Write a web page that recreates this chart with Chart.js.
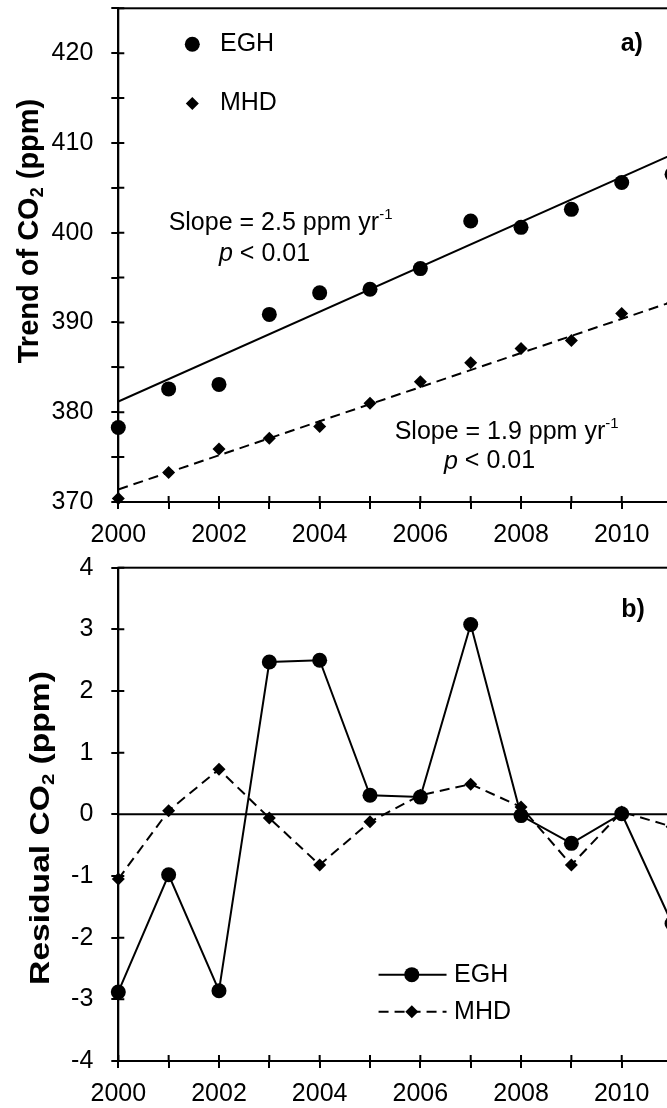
<!DOCTYPE html>
<html>
<head>
<meta charset="utf-8">
<script src="https://cdn.jsdelivr.net/npm/chart.js@4.4.1/dist/chart.umd.min.js"></script>
<style>
  html, body { margin: 0; padding: 0; background: #fff; overflow: hidden; }
  body { width: 667px; height: 1108px; position: relative; }
  .panel { position: absolute; left: 0; width: 760px; }
  #panelA { top: 0; height: 556px; }
  #panelB { top: 540px; height: 568px; }
</style>
</head>
<body>
<div class="panel" id="panelA"><canvas id="trend-chart"></canvas></div>
<div class="panel" id="panelB"><canvas id="resid-chart"></canvas></div>
<script>
// data
const years = [2000, 2001, 2002, 2003, 2004, 2005, 2006, 2007, 2008, 2009, 2010, 2011];
const eghTrend = [378.3, 382.6, 383.1, 390.9, 393.3, 393.7, 396.0, 401.3, 400.6, 402.6, 405.6, 406.5];
const mhdTrend = [370.4, 373.3, 375.9, 377.1, 378.4, 381.0, 383.4, 385.5, 387.1, 388.0, 391.0, 392.1];
const fitYears = [2000, 2011];
const eghFit = [381.2, 408.7];
const mhdFit = [371.4, 392.3];
const eghResid = [-2.88, -0.98, -2.86, 2.47, 2.50, 0.31, 0.28, 3.08, -0.02, -0.47, 0.01, -1.77];
const mhdResid = [-1.05, 0.06, 0.73, -0.06, -0.82, -0.12, 0.31, 0.49, 0.12, -0.82, 0.04, -0.20];
const yearLabels = [2000, 2002, 2004, 2006, 2008, 2010];
const trendLabels = [370, 380, 390, 400, 410, 420];
const residLabels = [-4, -3, -2, -1, 0, 1, 2, 3, 4];

const FONT = "'Liberation Sans', Arial, sans-serif";

function pts(xs, ys) {
  return xs.map((x, i) => ({ x: x, y: ys[i] }));
}

function drawParts(ctx, parts, x, y) {
  let cx = x;
  parts.forEach(p => {
    ctx.font = p.font;
    ctx.fillText(p.text, cx, y + (p.dy || 0));
    cx += ctx.measureText(p.text).width;
  });
}

const slopeText = (v) => [
  { text: 'Slope = ' + v + ' ppm yr', font: '25px ' + FONT },
  { text: '-1', font: '15px ' + FONT, dy: -8 }
];
const pText = [
  { text: 'p', font: 'italic 25px ' + FONT },
  { text: ' < 0.01', font: '25px ' + FONT }
];

// frame, crossing tick marks, zero line, legends, labels and axis title
const panelDecor = {
  id: 'panelDecor',
  afterDraw(chart, args, opts) {
    const { ctx, chartArea: a } = chart;
    const x = chart.scales.x, y = chart.scales.y;
    ctx.save();
    ctx.strokeStyle = '#000';
    ctx.fillStyle = '#000';
    ctx.lineWidth = 2;
    ctx.strokeRect(a.left, a.top, a.right - a.left, a.bottom - a.top);
    ctx.beginPath();
    y.ticks.forEach(t => {
      const py = y.getPixelForValue(t.value);
      ctx.moveTo(a.left, py); ctx.lineTo(a.left + 6, py);
    });
    x.ticks.forEach(t => {
      const px = x.getPixelForValue(t.value);
      ctx.moveTo(px, a.bottom); ctx.lineTo(px, a.bottom - 6);
    });
    if (opts.zeroLine) {
      const py = y.getPixelForValue(0);
      ctx.moveTo(a.left, py); ctx.lineTo(a.right, py);
    }
    ctx.stroke();

    ctx.textBaseline = 'middle';
    ctx.textAlign = 'left';
    (opts.legend || []).forEach(item => {
      const py = y.getPixelForValue(item.y);
      if (item.line) {
        ctx.beginPath();
        ctx.setLineDash(item.dash || []);
        ctx.moveTo(x.getPixelForValue(item.line[0]), py);
        ctx.lineTo(x.getPixelForValue(item.line[1]), py);
        ctx.stroke();
        ctx.setLineDash([]);
      }
      Chart.helpers.drawPoint(ctx, { pointStyle: item.style, radius: item.radius, borderWidth: 0, rotation: 0 },
        x.getPixelForValue(item.mx), py);
      ctx.font = '25px ' + FONT;
      ctx.fillText(item.label, x.getPixelForValue(item.tx), py);
    });
    (opts.notes || []).forEach(n => {
      drawParts(ctx, n.parts, x.getPixelForValue(n.x), y.getPixelForValue(n.y));
    });

    if (opts.title) {
      const t = opts.title;
      const big = 'bold ' + t.size + 'px ' + FONT;
      const small = 'bold ' + Math.round(t.size * 0.62) + 'px ' + FONT;
      ctx.translate(t.x, t.y);
      ctx.rotate(-Math.PI / 2);
      ctx.scale(t.stretch || 1, 1);
      ctx.font = big;
      const w1 = ctx.measureText(t.pre).width;
      const w3 = ctx.measureText(t.post).width;
      ctx.font = small;
      const w2 = ctx.measureText('2').width;
      ctx.textBaseline = 'alphabetic';
      let cx = -(w1 + w2 + w3) / 2;
      ctx.font = big;
      ctx.fillText(t.pre, cx, 0); cx += w1;
      ctx.font = small;
      ctx.fillText('2', cx, 5); cx += w2;
      ctx.font = big;
      ctx.fillText(t.post, cx, 0);
    }
    ctx.restore();
  }
};

function noPad(s) {
  s.paddingTop = 0; s.paddingBottom = 0; s.paddingLeft = 0; s.paddingRight = 0;
}

function xAxis(height) {
  return {
    type: 'linear', min: 2000, max: 2012,
    afterFit: (s) => { s.height = height; noPad(s); },
    border: { display: true, color: '#000', width: 2 },
    grid: { display: true, drawOnChartArea: false, drawTicks: true, tickLength: 7, color: '#000', lineWidth: 2 },
    ticks: {
      stepSize: 1, autoSkip: false, maxRotation: 0, padding: 11, color: '#000',
      font: { family: FONT, size: 25 },
      callback: (v) => yearLabels.includes(v) ? String(v) : ''
    }
  };
}

function yAxis(min, max, step, labels) {
  return {
    min: min, max: max,
    afterFit: (s) => { s.width = 118.3; noPad(s); },
    border: { display: true, color: '#000', width: 2 },
    grid: { display: true, drawOnChartArea: false, drawTicks: true, tickLength: 7, color: '#000', lineWidth: 2 },
    ticks: {
      stepSize: step, autoSkip: false, padding: 18, color: '#000',
      font: { family: FONT, size: 25 },
      callback: (v) => labels.includes(v) ? String(v) : ''
    }
  };
}

new Chart(document.getElementById('trend-chart'), {
  type: 'line',
  data: {
    datasets: [
      { label: 'EGH', data: pts(years, eghTrend), showLine: false, pointStyle: 'circle', pointRadius: 7.5,
        pointBackgroundColor: '#000', pointBorderWidth: 0, clip: false },
      { label: 'MHD', data: pts(years, mhdTrend), showLine: false, pointStyle: 'rectRot', pointRadius: 6.5,
        pointBackgroundColor: '#000', pointBorderWidth: 0, clip: false },
      { label: 'EGH fit', data: pts(fitYears, eghFit), borderColor: '#000', borderWidth: 2, pointRadius: 0 },
      { label: 'MHD fit', data: pts(fitYears, mhdFit), borderColor: '#000', borderWidth: 2, borderDash: [10, 6], pointRadius: 0 }
    ]
  },
  options: {
    responsive: true, maintainAspectRatio: false, animation: false, events: [],
    layout: { padding: { top: 8.3, right: 37.6, left: 0, bottom: 0 } },
    scales: { x: xAxis(54), y: yAxis(370, 425, 5, trendLabels) },
    plugins: {
      legend: { display: false }, tooltip: { enabled: false },
      panelDecor: {
        legend: [
          { label: 'EGH', style: 'circle', radius: 7.5, mx: 2001.47, tx: 2002.02, y: 421.0 },
          { label: 'MHD', style: 'rectRot', radius: 6.5, mx: 2001.47, tx: 2002.02, y: 414.4 }
        ],
        notes: [
          { parts: slopeText('2.5'), x: 2001.0, y: 401.1 },
          { parts: pText, x: 2002.0, y: 397.6 },
          { parts: slopeText('1.9'), x: 2005.49, y: 377.8 },
          { parts: pText, x: 2006.47, y: 374.5 },
          { parts: [{ text: 'a)', font: 'bold 25px ' + FONT }], x: 2009.98, y: 421.0 }
        ],
        title: { pre: 'Trend of CO', post: ' (ppm)', size: 29, x: 38, y: 231 }
      }
    }
  },
  plugins: [panelDecor]
});

new Chart(document.getElementById('resid-chart'), {
  type: 'line',
  data: {
    datasets: [
      { label: 'EGH', data: pts(years, eghResid), borderColor: '#000', borderWidth: 2, pointStyle: 'circle',
        pointRadius: 7.5, pointBackgroundColor: '#000', pointBorderWidth: 0, clip: false },
      { label: 'MHD', data: pts(years, mhdResid), borderColor: '#000', borderWidth: 2, borderDash: [10, 6],
        pointStyle: 'rectRot', pointRadius: 6.5, pointBackgroundColor: '#000', pointBorderWidth: 0, clip: false }
    ]
  },
  options: {
    responsive: true, maintainAspectRatio: false, animation: false, events: [],
    layout: { padding: { top: 27.7, right: 37.6, left: 0, bottom: 0 } },
    scales: { x: xAxis(47), y: yAxis(-4, 4, 1, residLabels) },
    plugins: {
      legend: { display: false }, tooltip: { enabled: false },
      panelDecor: {
        zeroLine: true,
        legend: [
          { label: 'EGH', style: 'circle', radius: 7.5, line: [2005.17, 2006.52], mx: 2005.83, tx: 2006.67, y: -2.60 },
          { label: 'MHD', style: 'rectRot', radius: 6.5, line: [2005.17, 2006.52], dash: [10, 6], mx: 2005.83, tx: 2006.67, y: -3.20 }
        ],
        notes: [
          { parts: [{ text: 'b)', font: 'bold 25px ' + FONT }], x: 2009.99, y: 3.31 }
        ],
        title: { pre: 'Residual CO', post: ' (ppm)', size: 28, stretch: 1.2, x: 49, y: 288 }
      }
    }
  },
  plugins: [panelDecor]
});
</script>
</body>
</html>
